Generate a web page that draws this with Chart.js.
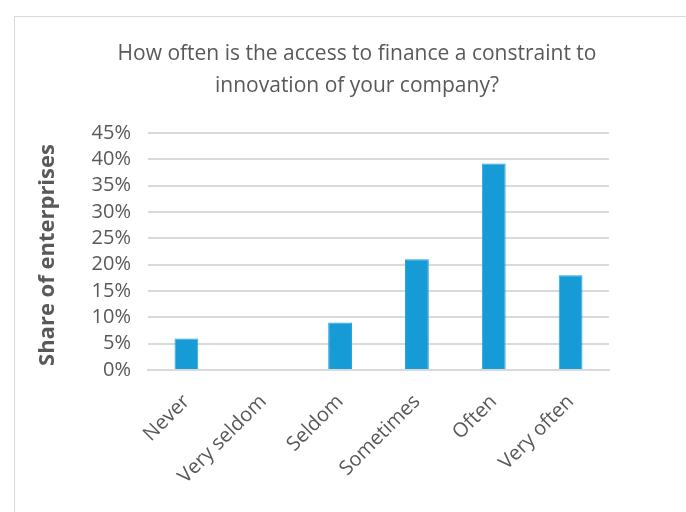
<!DOCTYPE html>
<html><head><meta charset="utf-8">
<script src="https://cdn.jsdelivr.net/npm/chart.js@4"></script>
<style>
html,body{margin:0;padding:0;background:#fff;overflow:hidden}
#frame{position:absolute;left:14px;top:16px;width:700px;height:520px;border:1.5px solid #d9d9d9;box-sizing:border-box}
#wrap{position:absolute;left:0;top:0;width:686px;height:512px}
</style></head>
<body>
<div id="frame"></div>
<div id="wrap"><canvas id="c" width="686" height="512"></canvas></div>
<script>
const categories = ["Never","Very seldom","Seldom","Sometimes","Often","Very often"];
const shares = [6, 0, 9, 21, 39.2, 18];
const yTicks = [0,5,10,15,20,25,30,35,40,45];
const titleLines = ["How often is the access to finance a constraint to","innovation of your company?"];
const yTitle = "Share of enterprises";

const FONT = "'Open Sans',sans-serif";
const GREY = "#595959";

const yTitlePlugin = {
  id: 'yTitlePlugin',
  afterDraw(chart) {
    const ctx = chart.ctx;
    ctx.save();
    ctx.translate(48, 255);
    ctx.rotate(-Math.PI / 2);
    ctx.font = "bold 22px " + FONT;
    ctx.fillStyle = GREY;
    ctx.textAlign = 'center';
    ctx.textBaseline = 'middle';
    ctx.fillText(yTitle, 0, 0);
    ctx.restore();
  }
};

new Chart(document.getElementById('c'), {
  type: 'bar',
  data: {
    labels: categories,
    datasets: [{
      data: shares,
      backgroundColor: '#179bd7',
      borderColor: '#2aa3db',
      borderWidth: 1,
      barPercentage: 0.31,
      categoryPercentage: 1
    }]
  },
  plugins: [yTitlePlugin],
  options: {
    responsive: false,
    animation: false,
    devicePixelRatio: 1,
    layout: { padding: { left: 28, right: 0, top: 0, bottom: 0 } },
    plugins: {
      legend: { display: false },
      tooltip: { enabled: false },
      title: {
        display: true,
        text: titleLines,
        color: GREY,
        font: { family: FONT, size: 21, weight: 'normal', lineHeight: 1.52 },
        padding: { top: 38, bottom: 31 }
      }
    },
    scales: {
      x: {
        grid: { display: false, drawTicks: false },
        border: { display: true, color: '#d9d9d9', width: 2 },
        ticks: {
          color: GREY, minRotation: 45, maxRotation: 45, padding: 20,
          autoSkip: false,
          font: { family: FONT, size: 20 }
        },
        afterFit: s => { s.height = 142; }
      },
      y: {
        min: 0, max: 45,
        afterBuildTicks: s => { s.ticks = yTicks.map(v => ({ value: v })); },
        grid: { color: '#d9d9d9', lineWidth: 2, drawTicks: false },
        border: { display: false },
        ticks: {
          color: GREY, padding: 17, autoSkip: false,
          font: { family: FONT, size: 20 },
          callback: v => v + '%'
        },
        afterFit: s => { s.width = 120; }
      },
      yR: {
        position: 'right',
        display: true,
        grid: { display: false, drawTicks: false },
        border: { display: false },
        ticks: { display: false },
        afterFit: s => { s.width = 77; }
      }
    }
  }
});
</script>
</body></html>
